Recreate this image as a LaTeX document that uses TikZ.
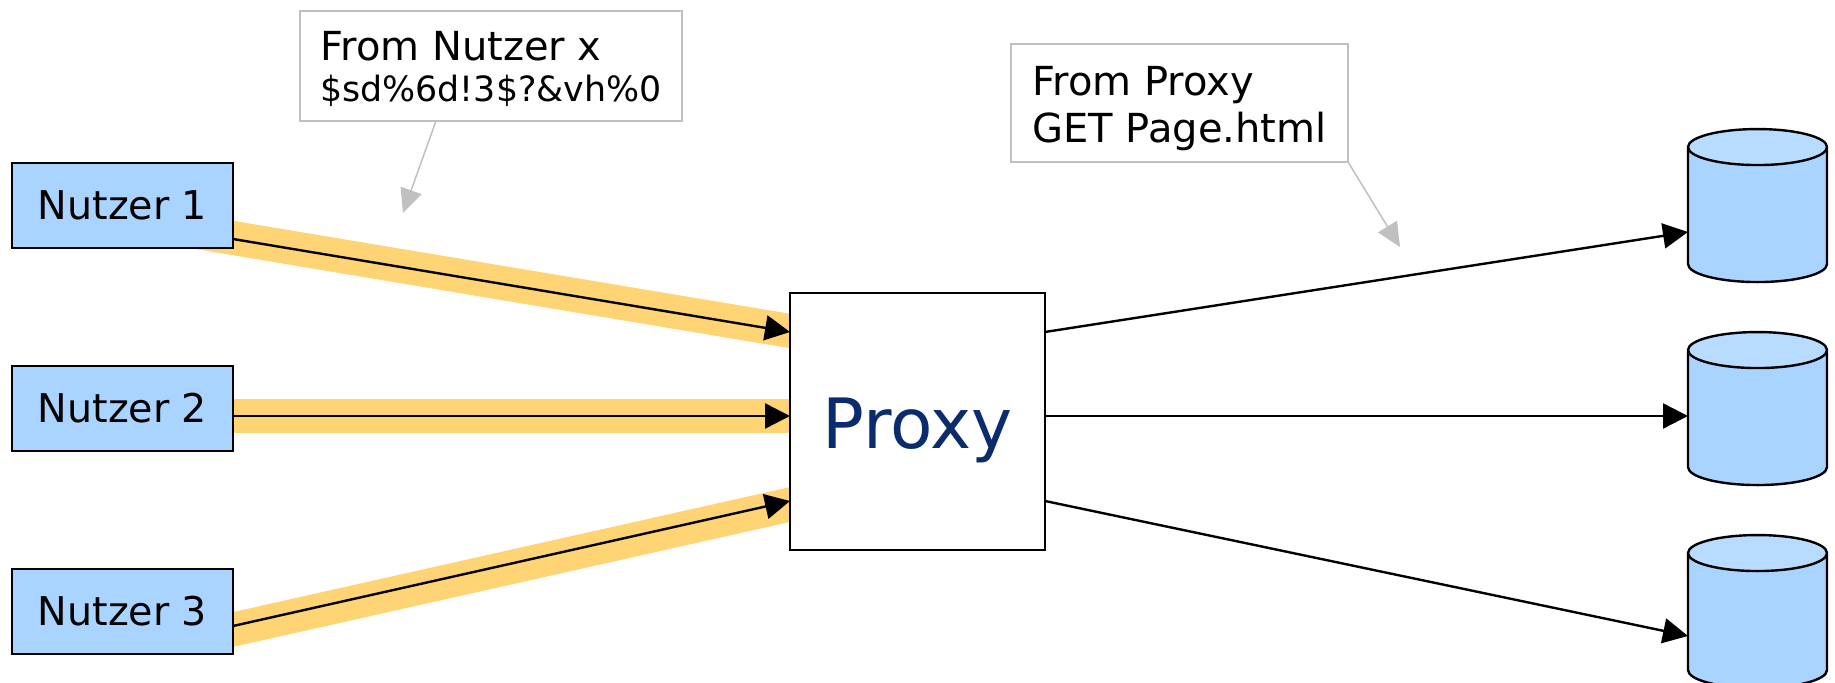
\documentclass[tikz,border=0pt]{standalone}
\usepackage{fontspec}
\setmainfont{DejaVu Sans}
\usetikzlibrary{arrows.meta,backgrounds,shapes.geometric}
\definecolor{nutzerblue}{HTML}{A8D4FF}
\definecolor{toplight}{HTML}{B8DCFF}
\definecolor{bandorange}{HTML}{FFD475}
\definecolor{proxyblue}{HTML}{0A2C6E}
\definecolor{notegray}{HTML}{C0C0C0}
\tikzset{
  nutzer/.style={rectangle, draw, line width=1.2pt, fill=nutzerblue, outer sep=0pt, minimum width=110.5pt, minimum height=42.5pt, font=\fontsize{19.8}{23}\selectfont},
  proxybox/.style={rectangle, draw, line width=1.2pt, fill=white, outer sep=0pt, minimum width=127.5pt, minimum height=128.5pt, text=proxyblue, font=\fontsize{34.7}{38}\selectfont},
  database/.style={cylinder, shape border rotate=90, draw, line width=1.2pt, aspect=2.7, outer sep=0pt, minimum width=69.5pt, minimum height=76.5pt, cylinder uses custom fill, cylinder body fill=nutzerblue, cylinder end fill=toplight},
  note/.style={rectangle, draw=notegray, line width=.75pt, fill=white, outer sep=0pt, align=left, inner sep=0pt, font=\fontsize{20}{20.5}\selectfont},
  band/.style={draw=bandorange, line width=17pt, shorten <=-24pt, shorten >=-8pt},
  link/.style={draw, line width=1.2pt, -{Triangle[length=12.5pt,width=12.5pt]}},
  noteline/.style={draw=notegray, line width=.75pt, -{Triangle[length=12pt,width=11pt]}}
}
\begin{document}
\begin{tikzpicture}[x=.5pt,y=-.5pt]
\useasboundingbox (0,0) rectangle (1835,683);
\node[nutzer] (nutzer1) at (122.5,205.5){Nutzer 1};
\node[nutzer] (nutzer2) at (122.5,408.5){Nutzer 2};
\node[nutzer] (nutzer3) at (122.5,611.5){Nutzer 3};
\node[proxybox] (proxy) at (917.5,421.5){\rule{0pt}{34.5pt}Proxy};
\node[database] (db1) at (1757.5,219){};
\node[database] (db2) at (1757.5,422){};
\node[database] (db3) at (1757.5,625){};
\node[note, minimum width=191pt, minimum height=55pt] (note1) at (491,66){\rule{0pt}{18pt}From Nutzer x\\{\fontsize{17.4}{20.5}\selectfont \$sd\%6d!3\$?\&vh\%0}};
\node[note, minimum width=168.5pt, minimum height=59pt] (note2) at (1179.5,103){\rule{0pt}{20.6pt}From Proxy\\[3pt]GET Page.html};
\coordinate (tip1) at (403,213);
\coordinate (tip2) at (1400,247);
\begin{scope}[on background layer]
\draw[band]([yshift=-16.25pt]nutzer1.east) -- ([yshift=45.25pt]proxy.west);
\draw[band]([yshift=-3.75pt]nutzer2.east) -- ([yshift=2.75pt]proxy.west);
\draw[band, shorten <=-12pt]([yshift=-9pt]nutzer3.east) -- ([yshift=-41.5pt]proxy.west);
\end{scope}
\draw[link]([yshift=-16.75pt]nutzer1.east) -- ([yshift=44.75pt]proxy.west);
\draw[link]([yshift=-3.75pt]nutzer2.east) -- ([yshift=2.75pt]proxy.west);
\draw[link]([yshift=-7.25pt]nutzer3.east) -- ([yshift=-39.75pt]proxy.west);
\draw[link]([yshift=44.75pt]proxy.east) -- ([yshift=-6.5pt]db1.west);
\draw[link]([yshift=2.75pt]proxy.east) -- ([yshift=3pt]db2.west);
\draw[link]([yshift=-39.75pt]proxy.east) -- ([yshift=-5.5pt]db3.west);
\draw[noteline](note1.225.5) -- (tip1);
\draw[noteline](note2.south east) -- (tip2);
\end{tikzpicture}
\end{document}
